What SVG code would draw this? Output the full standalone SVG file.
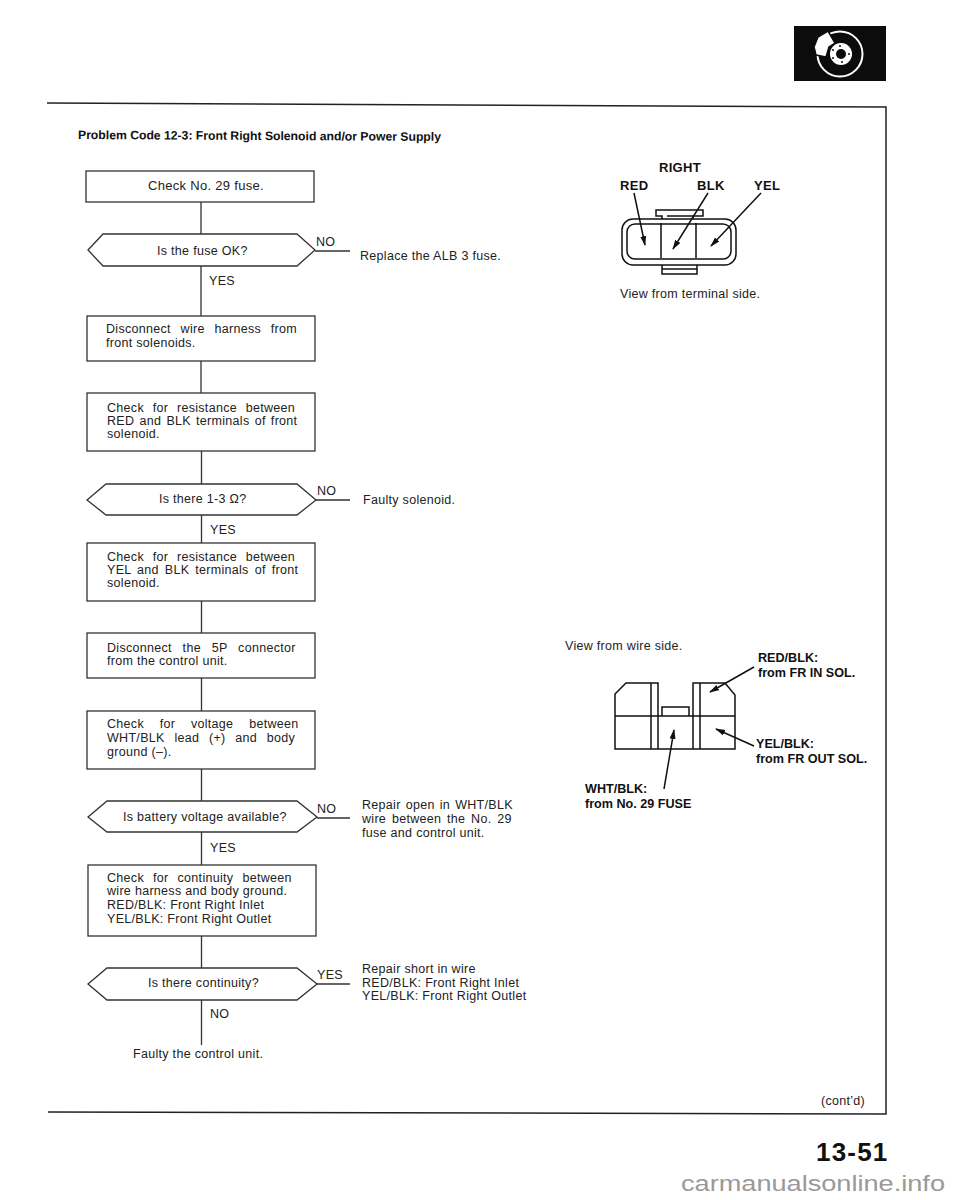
<svg xmlns="http://www.w3.org/2000/svg" width="960" height="1200" viewBox="0 0 960 1200">
<style>
text{font-family:"Liberation Sans",Arial,sans-serif;font-size:12.5px;letter-spacing:.3px;fill:#222}
.b{font-weight:bold;fill:#111;letter-spacing:0;font-size:12.6px}
.t{font-size:13px;letter-spacing:.3px}
.s{fill:#fff;stroke:#333;stroke-width:1.3}
.l{fill:none;stroke:#333;stroke-width:1.3}
.k{fill:none;stroke:#111;stroke-width:1.5}
</style>
<defs>
<marker id="a" markerWidth="10" markerHeight="8" refX="9" refY="3" orient="auto" markerUnits="userSpaceOnUse"><path d="M0 0L10 3L0 6Z" fill="#111"/></marker>
</defs>
<rect width="960" height="1200" fill="#fff"/>
<g id="page-frame">
<path d="M47 103L886 107V1114L48 1112" fill="none" stroke="#222" stroke-width="1.5"/>
</g>
<g id="icon">
<rect x="794" y="26" width="92" height="55" fill="#0c0c0c"/>
<circle cx="840" cy="54" r="22.5" fill="none" stroke="#fff" stroke-width="2"/>
<path d="M828 31L835 43L829 47L826 57L816 55L814 47L818 37Z" fill="#fff" stroke="#0c0c0c" stroke-width="1.5"/>
<circle cx="841" cy="54" r="11" fill="#fff"/>
<circle cx="841" cy="54" r="5" fill="#0c0c0c"/>
<g fill="#0c0c0c"><circle cx="840" cy="46" r="1"/><circle cx="849" cy="54" r="1"/><circle cx="842" cy="62" r="1"/><circle cx="833" cy="58" r="1"/><circle cx="833" cy="50" r="1"/></g>
</g>
<text class="b" x="78" y="139" style="font-size:12.2px" transform="rotate(0.3 78 139)">Problem Code 12-3: Front Right Solenoid and/or Power Supply</text>
<g id="connectors">
<path class="l" d="M201 202V234M201 266V316M201 361V393M201.500 451V484M201.500 515V543M201.500 601V633M201.500 678V711M201.500 769V801M201.500 832V865M201.500 936V968M201.500 1000V1045"/>
<path class="l" d="M315 251H350M316 500H350M317 818H350M317 984H350"/>
</g>
<g id="n1"><rect class="s" x="86" y="171" width="228" height="31"/><text x="148" y="190" class="t">Check No. 29 fuse.</text></g>
<g id="n2"><path class="s" d="M88 250L103 234H297L315 250L297 266H103Z"/><text x="157" y="255">Is the fuse OK?</text></g>
<text x="209" y="285">YES</text><text x="316" y="246">NO</text>
<text x="360" y="260">Replace the ALB 3 fuse.</text>
<g id="n3"><rect class="s" x="87" y="316" width="228" height="45"/><text x="106" y="333" style="word-spacing:6px">Disconnect wire harness from</text><text x="106" y="347">front solenoids.</text></g>
<g id="n4"><rect class="s" x="87" y="393" width="228" height="58"/><text x="107" y="412" style="word-spacing:5px">Check for resistance between</text><text x="107" y="425" style="word-spacing:1.4px">RED and BLK terminals of front</text><text x="107" y="438">solenoid.</text></g>
<g id="n5"><path class="s" d="M87 500L106 484H297L316 500L297 515H106Z"/><text x="159" y="503">Is there 1-3 Ω?</text></g>
<text x="210" y="534">YES</text><text x="317" y="495">NO</text>
<text x="363" y="504">Faulty solenoid.</text>
<g id="n6"><rect class="s" x="87" y="543" width="228" height="58"/><text x="107" y="561" style="word-spacing:5px">Check for resistance between</text><text x="107" y="574" style="word-spacing:2.2px">YEL and BLK terminals of front</text><text x="107" y="587">solenoid.</text></g>
<g id="n7"><rect class="s" x="87" y="633" width="228" height="45"/><text x="107" y="652" style="word-spacing:7px">Disconnect the 5P connector</text><text x="107" y="665">from the control unit.</text></g>
<g id="n8"><rect class="s" x="87" y="711" width="228" height="58"/><text x="107" y="728" style="word-spacing:12px">Check for voltage between</text><text x="107" y="742" style="word-spacing:6px">WHT/BLK lead (+) and body</text><text x="107" y="756">ground (–).</text></g>
<g id="n9"><path class="s" d="M88 817L107 801H297L317 817L297 832H107Z"/><text x="123" y="821">Is battery voltage available?</text></g>
<text x="210" y="852">YES</text><text x="317" y="813">NO</text>
<text x="362" y="809" style="word-spacing:1.3px">Repair open in WHT/BLK</text><text x="362" y="823" style="word-spacing:2px">wire between the No. 29</text><text x="362" y="837">fuse and control unit.</text>
<g id="n10"><rect class="s" x="88" y="865" width="228" height="71"/><text x="107" y="882" style="word-spacing:5.300px">Check for continuity between</text><text x="107" y="895">wire harness and body ground.</text><text x="107" y="909">RED/BLK: Front Right Inlet</text><text x="107" y="923">YEL/BLK: Front Right Outlet</text></g>
<g id="n11"><path class="s" d="M88 984L107 968H297L317 984L297 1000H107Z"/><text x="148" y="987">Is there continuity?</text></g>
<text x="210" y="1018">NO</text><text x="317" y="979">YES</text>
<text x="362" y="973">Repair short in wire</text><text x="362" y="987">RED/BLK: Front Right Inlet</text><text x="362" y="1000">YEL/BLK: Front Right Outlet</text>
<text x="133" y="1058">Faulty the control unit.</text>
<g id="right-connector">
<text class="b t" x="659" y="172" style="font-size:13px">RIGHT</text><text class="b t" x="620" y="190" style="font-size:13px">RED</text><text class="b t" x="697" y="190" style="font-size:13px">BLK</text><text class="b t" x="754" y="190" style="font-size:13px">YEL</text>
<path class="k" d="M662 219V216H656V210H703V216H693V219M667 216H693"/>
<rect class="k" x="622" y="219" width="114" height="46" rx="11"/>
<rect class="k" x="627" y="224" width="104" height="35" rx="8"/>
<path class="k" d="M661 223V258M696 223V258M662 265V274H697V265M662 269H697"/>
<path class="k" d="M634 193L645 245" marker-end="url(#a)"/>
<path class="k" d="M708 193L673 249" marker-end="url(#a)"/>
<path class="k" d="M761 193L711 246" marker-end="url(#a)"/>
<text x="620" y="298">View from terminal side.</text>
</g>
<g id="wire-connector">
<text x="565" y="650">View from wire side.</text>
<path class="k" d="M615 749V694L626 683H658V749ZM651 683V749M615 716H735M662 707H689V716H662ZM693 683H725L735 695V749H693ZM700 683V749M615 749H735"/>
<path class="k" d="M754 667L710 692" marker-end="url(#a)"/>
<path class="k" d="M754 746L716 729" marker-end="url(#a)"/>
<path class="k" d="M664 789L674 730" marker-end="url(#a)"/>
<text class="b" x="758" y="662">RED/BLK:</text><text class="b" x="758" y="677">from FR IN SOL.</text>
<text class="b" x="756" y="748">YEL/BLK:</text><text class="b" x="756" y="763">from FR OUT SOL.</text>
<text class="b" x="585" y="793">WHT/BLK:</text><text class="b" x="585" y="808">from No. 29 FUSE</text>
</g>
<text x="821" y="1105">(cont’d)</text>
<text class="b" x="816" y="1161" style="font-size:26px;letter-spacing:1.200px">13-51</text>
<text x="681" y="1191" textLength="264" lengthAdjust="spacingAndGlyphs" style="font-size:22px;letter-spacing:0;fill:#999">carmanualsonline.info</text>
</svg>
